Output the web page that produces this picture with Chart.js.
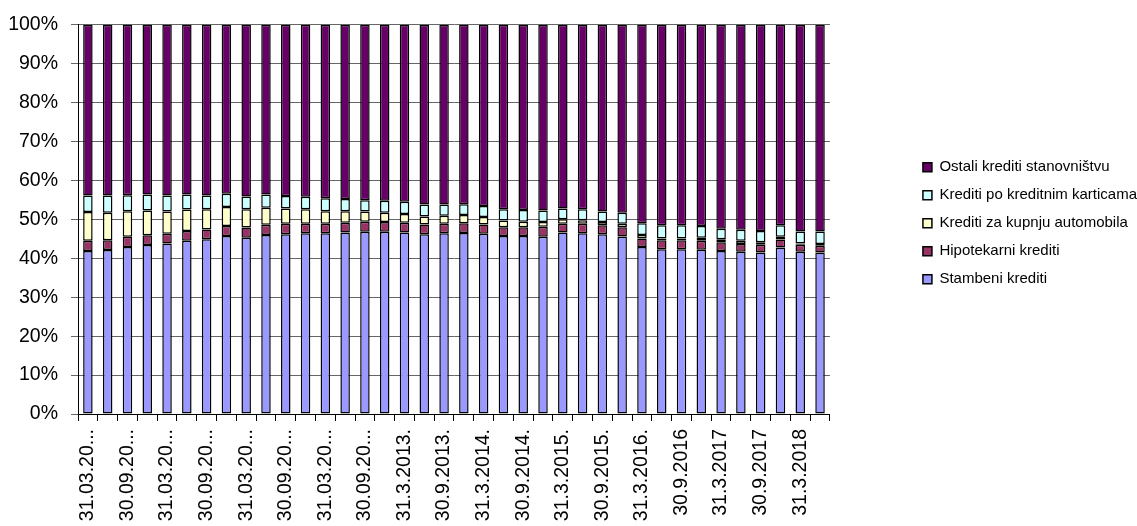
<!DOCTYPE html>
<html lang="hr">
<head>
    <meta charset="UTF-8">
    <title>Struktura kredita stanovništvu</title>
    <style>
        body {
            margin: 0;
            background: #fff;
        }
        .wrap {
            width: 1137px;
            height: 526px;
        }
    </style>
</head>
<body>
    <div class="wrap">
        <canvas id="loansChart"></canvas>
    </div>

    <script src="https://cdn.jsdelivr.net/npm/chart.js@4"></script>
    <script>
        // Axis labels, one for every second quarter (31.03.2009 - 31.3.2018)
        const tickLabels = [
            '31.03.20...', '30.09.20...', '31.03.20...', '30.09.20...',
            '31.03.20...', '30.09.20...', '31.03.20...', '30.09.20...',
            '31.3.2013.', '30.9.2013.', '31.3.2014.', '30.9.2014.',
            '31.3.2015.', '30.9.2015.', '31.3.2016.', '30.9.2016',
            '31.3.2017', '30.9.2017', '31.3.2018'
        ];

        // Shares of each loan type, % of total (quarterly)
        const stambeni = [
            41.9, 42.1, 42.9, 43.4, 43.8, 44.5, 44.9, 45.7, 45.3, 46.0,
            46.2, 46.4, 46.4, 46.6, 46.8, 46.8, 46.6, 46.2, 46.4, 46.5,
            46.3, 45.7, 45.7, 45.5, 46.6, 46.4, 46.2, 45.6, 42.9, 42.3,
            42.3, 42.2, 41.9, 41.7, 41.5, 42.8, 41.7, 41.5
        ];
        const hipotekarni = [
            2.6, 2.5, 2.6, 2.5, 2.5, 2.5, 2.5, 2.6, 2.6, 2.6,
            2.7, 2.5, 2.5, 2.5, 2.6, 2.5, 2.5, 2.5, 2.5, 2.5,
            2.4, 2.3, 2.3, 2.6, 2.3, 2.5, 2.3, 2.4, 2.2, 2.3,
            2.3, 2.3, 2.2, 2.0, 2.0, 2.0, 1.8, 1.7
        ];
        const automobili = [
            7.4, 7.1, 6.6, 6.4, 5.7, 5.5, 5.2, 4.9, 4.7, 4.4,
            3.9, 3.7, 3.2, 3.0, 2.6, 2.4, 2.3, 2.0, 2.0, 2.1,
            1.9, 1.7, 1.4, 1.2, 1.1, 0.9, 0.8, 0.9, 0.9, 0.5,
            0.5, 0.8, 0.8, 0.8, 0.6, 0.7, 0.3, 0.5
        ];
        const kartice = [
            4.2, 4.4, 4.1, 4.1, 4.1, 3.9, 3.5, 3.4, 3.3, 3.4,
            3.2, 3.2, 3.3, 3.1, 2.9, 3.1, 3.1, 3.1, 2.9, 2.8,
            2.8, 2.9, 3.0, 3.0, 2.8, 2.8, 2.7, 2.8, 3.0, 3.4,
            3.4, 3.0, 2.7, 2.8, 2.9, 3.0, 3.1, 3.2
        ];
        const ostali = [
            43.9, 43.9, 43.8, 43.6, 43.9, 43.6, 43.9, 43.4, 44.1, 43.6,
            44.0, 44.2, 44.6, 44.8, 45.1, 45.2, 45.5, 46.2, 46.2, 46.1,
            46.6, 47.4, 47.6, 47.7, 47.2, 47.4, 48.0, 48.3, 51.0, 51.5,
            51.5, 51.7, 52.4, 52.7, 53.0, 51.5, 53.1, 53.1
        ];

        // every labelled quarter is followed by an unlabelled one
        const categories = [];
        tickLabels.forEach(t => categories.push(t, ''));

        const FONT = '"Liberation Sans", Arial, sans-serif';

        function series(label, data, color) {
            return {
                label: label,
                data: data,
                backgroundColor: color,
                borderColor: '#000',
                borderWidth: 1.5,
                borderSkipped: false,
                barPercentage: 0.48,
                categoryPercentage: 1.0
            };
        }

        // Legend stays at the right edge, with an empty band between it and the bars
        const legendBand = {
            id: 'legendBand',
            afterInit(chart) {
                const legend = chart.legend;
                const fit = legend.fit;
                legend.fit = function () {
                    fit.call(this);
                    this.labelWidth = this.width;
                    this.width += 70;
                };
            },
            afterLayout(chart) {
                const legend = chart.legend;
                legend.left = legend.right - legend.labelWidth + 10;
                legend.top += 4;
                legend.bottom += 4;
            }
        };

        const ctx = document.getElementById('loansChart').getContext('2d');
        const loansChart = new Chart(ctx, {
            type: 'bar',
            data: {
                labels: categories,
                datasets: [
                    series('Stambeni krediti', stambeni, '#9999FF'),
                    series('Hipotekarni krediti', hipotekarni, '#993366'),
                    series('Krediti za kupnju automobila', automobili, '#FFFFCC'),
                    series('Krediti po kreditnim karticama', kartice, '#CCFFFF'),
                    series('Ostali krediti stanovništvu', ostali, '#660066')
                ]
            },
            plugins: [legendBand],
            options: {
                responsive: true,
                maintainAspectRatio: false,
                animation: false,
                layout: {
                    padding: { left: 7, top: 12, right: 0, bottom: 0 }
                },
                plugins: {
                    tooltip: { enabled: false },
                    legend: {
                        position: 'right',
                        fullSize: false,
                        reverse: true,
                        labels: {
                            boxWidth: 9,
                            boxHeight: 9,
                            padding: 13,
                            color: '#000',
                            font: { family: FONT, size: 15 }
                        }
                    }
                },
                scales: {
                    x: {
                        stacked: true,
                        offset: true,
                        grid: {
                            offset: true,
                            drawOnChartArea: false,
                            drawTicks: true,
                            tickLength: 7,
                            color: '#000'
                        },
                        border: { color: '#000', width: 1 },
                        ticks: {
                            autoSkip: false,
                            minRotation: 90,
                            maxRotation: 90,
                            padding: 8,
                            color: '#000',
                            font: { family: FONT, size: 19.5 }
                        },
                        afterFit: function (scale) {
                            scale.height = 112;
                        }
                    },
                    y: {
                        stacked: true,
                        min: 0,
                        max: 100,
                        grid: {
                            color: '#666',
                            tickLength: 7
                        },
                        border: { color: '#000', width: 1 },
                        ticks: {
                            stepSize: 10,
                            padding: 13,
                            color: '#000',
                            font: { family: FONT, size: 19.5 },
                            callback: v => v + '%'
                        },
                        afterFit: function (scale) {
                            scale.width = 71;
                        }
                    }
                }
            }
        });
    </script>
</body>
</html>
